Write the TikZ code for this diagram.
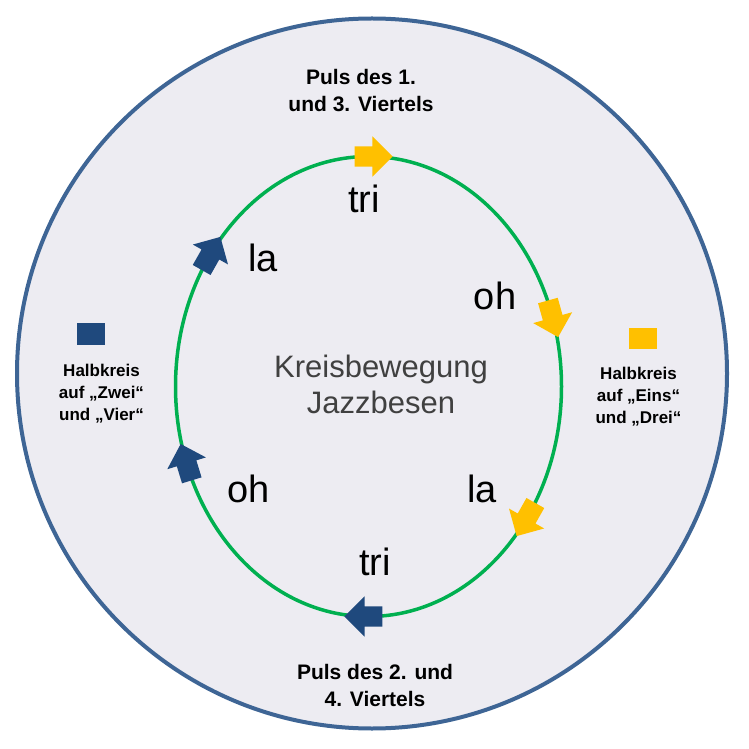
\documentclass[tikz,border=0pt]{standalone}
\usepackage{fontspec}
\setmainfont{Liberation Sans}
\usetikzlibrary{shapes.arrows}

\definecolor{ringgreen}{RGB}{0,176,80}
\definecolor{pulsyellow}{RGB}{255,192,0}
\definecolor{pulsblue}{RGB}{31,73,125}
\definecolor{rimblue}{RGB}{62,101,149}
\definecolor{paper}{RGB}{237,236,242}
\definecolor{inktext}{RGB}{64,64,64}

\begin{document}
\begin{tikzpicture}[x = 1pt, y = 1pt,
    every node/.style = { inner sep = 0pt, align = center },
    pfeil/.style = { single arrow, fill = #1, text height = 20pt, text depth = 0pt,
                     minimum height = 38pt, single arrow head extend = 10pt },
    silbe/.style = { font = \fontsize{38}{38}\selectfont, anchor = base },
    puls/.style = { font = \bfseries\fontsize{21}{27}\selectfont, anchor = base },
    halb/.style = { font = \bfseries\fontsize{17}{22}\selectfont, anchor = base },
    marke/.style = { fill = #1, minimum width = 28pt, minimum height = 21pt }]
  \useasboundingbox (0,0) rectangle (749,748);

  % Scheibe und Kreisbahn
  \node [circle, draw = rimblue, line width = 4pt, fill = paper, minimum size = 710pt] (scheibe) at (372,374.5) {};
  \coordinate (mitte) at (368.5,361.5);
  \draw [ringgreen, line width = 3.5pt] (mitte) ellipse [x radius = 193pt, y radius = 230pt];

  % Pfeile auf der Bahn
  \node [pfeil = pulsyellow, rotate = 0]      (p1) at ([shift = {(90:193pt and 230pt)}] mitte) {};
  \node [pfeil = pulsyellow, rotate = -74.4]  (p2) at ([shift = {(18.4:193pt and 230pt)}] mitte) {};
  \node [pfeil = pulsyellow, rotate = -119.5] (p3) at ([shift = {(-34:193pt and 230pt)}] mitte) {};
  \node [pfeil = pulsblue, rotate = 180]      (p4) at ([shift = {(-90:193pt and 230pt)}] mitte) {};
  \node [pfeil = pulsblue, rotate = 107]      (p5) at ([shift = {(200.5:193pt and 230pt)}] mitte) {};
  \node [pfeil = pulsblue, rotate = 60.5]     (p6) at ([shift = {(146:193pt and 230pt)}] mitte) {};

  % Silben
  \node [silbe] (tri1) at (364,535) {tri};
  \node [silbe] (oh1)  at (495,438) {oh};
  \node [silbe] (la1)  at (482,246) {la};
  \node [silbe] (tri2) at (375,173) {tri};
  \node [silbe] (oh2)  at (249,246) {oh};
  \node [silbe] (la2)  at (263,476) {la};

  \node [font = \fontsize{31}{36}\selectfont, text = inktext, anchor = base] (titel) at (381,335) { Kreisbewegung \\ Jazzbesen };

  % Beschriftung aussen
  \node [puls] (puls13) at (361,636) { Puls des 1. \\ und 3. Viertels };
  \node [puls] (puls24) at (375,42) { Puls des 2. und \\ 4. Viertels };

  \node [marke = pulsblue]   (m24) at (91,414) {};
  \node [marke = pulsyellow] (m13) at (642.5,409.5) {};
  \node [halb] (halb24) at (101.5,328) { Halbkreis \\ auf „Zwei“ \\ und „Vier“ };
  \node [halb] (halb13) at (638.5,325) { Halbkreis \\ auf „Eins“ \\ und „Drei“ };

\end{tikzpicture}
\end{document}
